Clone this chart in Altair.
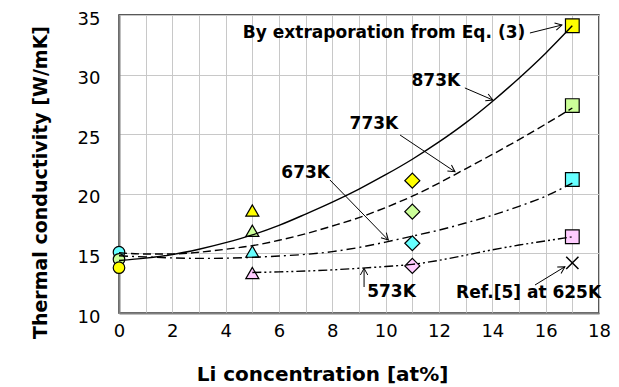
import math
import altair as alt
import pandas as pd

# ---- measured points ----
pt_conc = [0, 0, 0, 5, 5, 5, 5, 11, 11, 11, 11, 17, 17, 17, 17]
pt_k = [15.1, 14.5, 13.8, 18.6, 16.9, 15.15, 13.35, 21.1, 18.5, 15.85, 13.95, 34.1, 27.4, 21.2, 16.4]
pt_temp = ["673K", "773K", "873K", "873K", "773K", "673K", "573K",
           "873K", "773K", "673K", "573K", "873K", "773K", "673K", "573K"]
pt_shape = ["circle"] * 3 + ["triangle-up"] * 4 + ["diamond"] * 4 + ["square"] * 4

ref_conc = [17]
ref_k = [14.2]

# ---- fitted curves ----
c873_x = list(range(0, 18))
c873_y = [14.4, 14.6, 14.9, 15.35, 15.9, 16.55, 17.35, 18.3, 19.3, 20.4, 21.6, 22.9, 24.35, 25.95, 27.75, 29.7, 31.8, 34.1]
c773_x = list(range(0, 18))
c773_y = [15.05, 14.95, 14.95, 15.1, 15.35, 15.65, 16.1, 16.65, 17.3, 18.0, 18.85, 19.8, 20.9, 22.1, 23.3, 24.55, 25.85, 27.2]
c673_x = list(range(0, 18))
c673_y = [14.8, 14.7, 14.62, 14.58, 14.6, 14.67, 14.78, 14.92, 15.15, 15.5, 15.95, 16.45, 16.95, 17.55, 18.2, 18.95, 19.8, 20.9]
c573_x = list(range(5, 18))
c573_y = [13.4, 13.45, 13.52, 13.62, 13.75, 13.9, 14.08, 14.42, 14.85, 15.3, 15.7, 16.05, 16.4]

# ---- annotations ----
ann_text = ["By extraporation from Eq. (3)", "873K", "773K", "673K", "573K", "Ref.[5] at 625K"]
ann_x = [9.94, 11.88, 9.56, 7.0, 10.22, 15.36]
ann_y = [33.49, 29.46, 25.86, 21.75, 11.79, 11.68]

arr_x1 = [15.41, 12.97, 10.54, 7.91, 9.19, 15.6]
arr_y1 = [33.49, 28.88, 24.93, 21.16, 12.18, 12.35]
arr_x2 = [16.61, 14.02, 12.6, 10.1, 9.19, 16.72]
arr_y2 = [34.16, 27.87, 21.85, 16.12, 13.75, 13.88]

W, H = 480, 298
XMAX, YMIN, YMAX = 18, 10, 35
FONT = "DejaVu Sans"

temps = ["873K", "773K", "673K", "573K"]
fills = ["#FFFF00", "#CCFF99", "#66FFFF", "#FFCCFF"]
sizes = {"circle": 133, "triangle-up": 170, "diamond": 225, "square": 188}

pts = pd.DataFrame({"conc": pt_conc, "k": pt_k, "temp": pt_temp, "shape": pt_shape})
pts["sz"] = pts["shape"].map(sizes)

xs = alt.Scale(domain=[0, XMAX], nice=False, zero=False)
ys = alt.Scale(domain=[YMIN, YMAX], nice=False, zero=False)

XA = alt.Axis(values=list(range(0, 19)),
              labelExpr="datum.value % 2 === 0 ? datum.label : ''",
              title="Li concentration [at%]", titleX=203, titleY=61, titleFontSize=20,
              titleBaseline="middle", labelPadding=9, labelFlush=False)
YA = alt.Axis(values=[10, 15, 20, 25, 30, 35],
              title="Thermal conductivity [W/mK]", titleX=-79, titleY=167, titleFontSize=19,
              titleBaseline="middle", titleAngle=270, labelPadding=19, labelOffset=4,
              labelFlush=False)


def X(f):
    return alt.X(f, scale=xs, axis=XA)


def Y(f):
    return alt.Y(f, scale=ys, axis=YA)


points = alt.Chart(pts).mark_point(filled=True, stroke="black", strokeWidth=1.2, opacity=1).encode(
    x=X("conc:Q"), y=Y("k:Q"),
    shape=alt.Shape("shape:N", scale=None),
    size=alt.Size("sz:Q", scale=None),
    fill=alt.Fill("temp:N", scale=alt.Scale(domain=temps, range=fills), legend=None),
)

ref = alt.Chart(pd.DataFrame({"conc": ref_conc, "k": ref_k})).mark_point(
    shape="M-1,-1L1,1M-1,1L1,-1", size=150, stroke="black", strokeWidth=1.5, filled=False, opacity=1
).encode(x=X("conc:Q"), y=Y("k:Q"))


def curve(xv, yv, dash):
    df = pd.DataFrame({"conc": xv, "k": yv})
    kw = dict(color="black", strokeWidth=1.4, interpolate="monotone")
    if dash:
        kw["strokeDash"] = dash
    return alt.Chart(df).mark_line(**kw).encode(x=X("conc:Q"), y=Y("k:Q"))


l873 = curve(c873_x, c873_y, None)
l773 = curve(c773_x, c773_y, [8, 4])
l673 = curve(c673_x, c673_y, [9, 4, 2, 4])
l573 = curve(c573_x, c573_y, [9, 3, 2, 3, 2, 3])

arr = pd.DataFrame({"conc": arr_x1, "k": arr_y1, "x2": arr_x2, "y2": arr_y2})
pxu, pyu = W / XMAX, H / (YMAX - YMIN)
arr["ang"] = [
    (math.degrees(math.atan2(-(b2 - b1) * pyu, (a2 - a1) * pxu)) + 360) % 360
    for a1, b1, a2, b2 in zip(arr_x1, arr_y1, arr_x2, arr_y2)
]

arrow_lines = alt.Chart(arr).mark_rule(color="black", strokeWidth=1).encode(
    x=X("conc:Q"), y=Y("k:Q"), x2="x2:Q", y2="y2:Q")
arrow_heads = alt.Chart(arr.rename(columns={"conc": "a", "k": "b", "x2": "conc", "y2": "k"})).mark_point(
    shape="M-1,-0.55L0,0L-1,0.55", size=180, stroke="black", strokeWidth=1, filled=False, opacity=1
).encode(x=X("conc:Q"), y=Y("k:Q"), angle=alt.Angle("ang:Q", scale=None))

ann = pd.DataFrame({"t": ann_text, "conc": ann_x, "k": ann_y})
labels = alt.Chart(ann).mark_text(font=FONT, fontWeight="bold", fontSize=17, color="black",
                                  align="center", baseline="middle").encode(
    x=X("conc:Q"), y=Y("k:Q"), text="t:N")

chart = alt.layer(points, ref, l873, l773, l673, l573, arrow_lines, arrow_heads, labels).properties(
    width=W, height=H,
    autosize=alt.AutoSizeParams(type="none"),
    padding={"left": 111, "top": 7, "right": 12, "bottom": 72},
).configure_axis(
    grid=True, gridColor="#C8C8C8", gridWidth=1, ticks=False,
    domainColor="#808080", domainWidth=2,
    labelFont=FONT, labelFontSize=18, labelColor="black",
    titleFont=FONT, titleFontWeight="bold", titleColor="black",
).configure_view(stroke="#222222", strokeWidth=1.5)

chart.save("out.html", embed_options={"renderer": "svg", "actions": False})
